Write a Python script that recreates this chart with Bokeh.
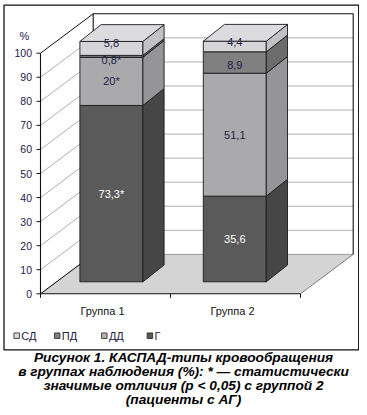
from bokeh.plotting import figure
from bokeh.models import Range1d
from bokeh.core.properties import value
from bokeh.embed import file_html
from bokeh.resources import INLINE

# ---------------- data ----------------
categories = ["Группа 1", "Группа 2"]
stack_order = ["Г", "ДД", "ПД", "СД"]          # bottom -> top
legend_order = ["СД", "ПД", "ДД", "Г"]
g_vals = [73.3, 35.6]
dd_vals = [20.0, 51.1]
pd_vals = [0.8, 8.9]
sd_vals = [5.8, 4.4]
g_sig = [True, False]
dd_sig = [True, False]
pd_sig = [True, False]
sd_sig = [False, False]
y_ticks = [0, 10, 20, 30, 40, 50, 60, 70, 80, 90, 100]
y_label = "%"
caption_lines = [
    "Рисунок 1. КАСПАД-типы кровообращения",
    "в группах наблюдения (%): * — статистически",
    "значимые отличия (р < 0,05) с группой 2",
    "(пациенты с АГ)",
]

values = {"Г": g_vals, "ДД": dd_vals, "ПД": pd_vals, "СД": sd_vals}
signif = {"Г": g_sig, "ДД": dd_sig, "ПД": pd_sig, "СД": sd_sig}

# ---------------- style / layout ----------------
FRONT = {"Г": "#5a5a5a", "ДД": "#aaaaac", "ПД": "#808080", "СД": "#d6d6d8"}
SIDE = {"Г": "#464646", "ДД": "#959597", "ПД": "#6c6c6c", "СД": "#c2c2c4"}
TOP = {"Г": "#6a6a6a", "ДД": "#b8b8ba", "ПД": "#8e8e8e", "СД": "#dcdcde"}
LEG = {"Г": "#595959", "ДД": "#b4b4b4", "ПД": "#808080", "СД": "#dadada"}
LABEL_COL = {"Г": "white", "ДД": "#1f2047", "ПД": "#1f2047", "СД": "#1f2047"}
LABEL_NUDGE = {("СД", 0): -5, ("ПД", 0): 4, ("СД", 1): -4, ("ПД", 1): 2.5}
TXT = "#1f2047"
FONT = value("Liberation Sans")

W, H, OFF = 359, 407, 0
X0_PX, SX = 40.0, 130.0
Y0_PX, SY = 293.3, 2.406


def dx(px):
    return px / SX


def dy(px):
    return px / SY


def X(px):
    return (px - X0_PX) / SX


def Y(py):
    return (Y0_PX - py) / SY


DX, DY = dx(52.7), dy(39.4)
NCAT = len(categories)
BAR_W = dx(63)
BAR_DX, BAR_DY = dx(21.2), dy(16.8)
BAR_BASE = dy(12.0)
BAR_X0, BAR_STEP = X(110.9), dx(123.4)

p = figure(width=W, height=H, output_backend="svg", toolbar_location=None,
           x_axis_type=None, y_axis_type=None, min_border=0,
           x_range=Range1d(X(OFF), X(OFF + W)), y_range=Range1d(Y(OFF + H), Y(OFF)))
p.outline_line_color = None
p.background_fill_color = "white"
p.border_fill_color = "white"

YMAX = y_ticks[-1]

# walls
p.patch([DX, NCAT + DX, NCAT + DX, DX], [DY, DY, YMAX + DY, YMAX + DY],
        fill_color="white", line_color=None)
p.patch([0, DX, DX, 0], [0, DY, YMAX + DY, YMAX], fill_color="white", line_color=None)

# gridlines back wall + left wall diagonals
grid = [t for t in y_ticks if 0 < t < YMAX]
p.segment(x0=[DX] * len(grid), y0=[t + DY for t in grid],
          x1=[NCAT + DX] * len(grid), y1=[t + DY for t in grid],
          line_color="#b0b0b0", line_width=1)
p.segment(x0=[0] * len(grid), y0=grid, x1=[DX] * len(grid), y1=[t + DY for t in grid],
          line_color="#b0b0b0", line_width=1)

# floor
p.patch([0, NCAT, NCAT + DX, DX], [0, 0, DY, DY], fill_color="#d4d4d4", line_color=None)
p.line([DX, NCAT + DX], [DY, DY], line_color="#9a9a9a", line_width=1)
p.line([NCAT, NCAT + DX], [0, DY], line_color="#7a7a7a", line_width=1)
p.line([0, DX], [0, DY], line_color="black", line_width=1)

# back wall outline and top diagonal
p.line([DX, DX, NCAT + DX, NCAT + DX], [DY, YMAX + DY, YMAX + DY, DY],
       line_color="#111111", line_width=1.1)
p.line([0, DX], [YMAX, YMAX + DY], line_color="#111111", line_width=1)

# axes lines and ticks
p.line([0, 0], [0, YMAX], line_color="#111111", line_width=1.1)
p.line([0, NCAT], [0, 0], line_color="#111111", line_width=1.1)
p.segment(x0=[dx(-4)] * len(y_ticks), y0=y_ticks, x1=[0] * len(y_ticks), y1=y_ticks,
          line_color="#111111", line_width=1)
xt = list(range(NCAT + 1))
p.segment(x0=xt, y0=[0] * len(xt), x1=xt, y1=[dy(-4)] * len(xt),
          line_color="#111111", line_width=1)

p.text(x=[dx(-8.5)] * len(y_ticks), y=y_ticks, text=[str(t) for t in y_ticks],
       text_font=FONT, text_font_size="10.5px", text_align="right",
       text_baseline="middle", text_color=TXT)
p.text(x=[X(24)], y=[Y(35)], text=[y_label], text_font=FONT, text_font_size="11px",
       text_align="center", text_baseline="middle", text_color=TXT)

# category labels
p.text(x=[i + 0.5 + dx(-3) for i in range(NCAT)], y=[Y(310.7)] * NCAT, text=categories,
       text_font=FONT, text_font_size="11px", text_align="center",
       text_baseline="middle", text_color="#111111")

# bars
xs, ys, cols = [], [], []
lx, ly, lt, lc = [], [], [], []
for i in range(NCAT):
    cx = BAR_X0 + i * BAR_STEP
    xl, xr = cx - BAR_W / 2, cx + BAR_W / 2
    cum = 0.0
    for k, s in enumerate(stack_order):
        v = values[s][i]
        y0 = BAR_BASE + cum
        y1 = y0 + v
        xs.append([xl, xr, xr, xl]); ys.append([y0, y0, y1, y1]); cols.append(FRONT[s])
        xs.append([xr, xr + BAR_DX, xr + BAR_DX, xr])
        ys.append([y0, y0 + BAR_DY, y1 + BAR_DY, y1]); cols.append(SIDE[s])
        if k == len(stack_order) - 1:
            xs.append([xl, xr, xr + BAR_DX, xl + BAR_DX])
            ys.append([y1, y1, y1 + BAR_DY, y1 + BAR_DY]); cols.append(TOP[s])
        txt = f"{v:g}".replace(".", ",") + ("*" if signif[s][i] else "")
        lx.append(cx)
        ly.append((y0 + y1) / 2 - dy(LABEL_NUDGE.get((s, i), 0)))
        lt.append(txt)
        lc.append(LABEL_COL[s])
        cum += v
p.patches(xs, ys, fill_color=cols, line_color="#1a1a1a", line_width=0.9)
p.text(x=lx, y=ly, text=lt, text_color=lc, text_font=FONT, text_font_size="11px",
       text_align="center", text_baseline="middle")

# frame border
p.quad(left=[X(3.5)], right=[X(358.2)], top=[Y(4.7)], bottom=[Y(349.3)],
       fill_color=None, line_color="#111111", line_width=1.3)

# legend
LEG_X = [16.2, 56.7, 103.8, 149.4]
LEG_Y = 335.2
p.rect(x=[X(v) for v in LEG_X], y=[Y(LEG_Y)] * 4, width=5.5, height=5.5,
       width_units="screen", height_units="screen",
       fill_color=[LEG[s] for s in legend_order], line_color="#222222", line_width=0.8)
p.text(x=[X(v + 4.6) for v in LEG_X], y=[Y(LEG_Y)] * 4, text=legend_order,
       text_font=FONT, text_font_size="11px", text_align="left",
       text_baseline="middle", text_color=TXT)

# caption
CAP_Y0, CAP_DY = 356.7, 14.2
p.text(x=[X(183)] * len(caption_lines),
       y=[Y(CAP_Y0 + j * CAP_DY) for j in range(len(caption_lines))],
       text=caption_lines, text_font=FONT, text_font_size="13.7px",
       text_font_style="bold italic", text_align="center", text_baseline="middle",
       text_color="#000000")

open("out.html", "w").write(file_html(p, INLINE))
